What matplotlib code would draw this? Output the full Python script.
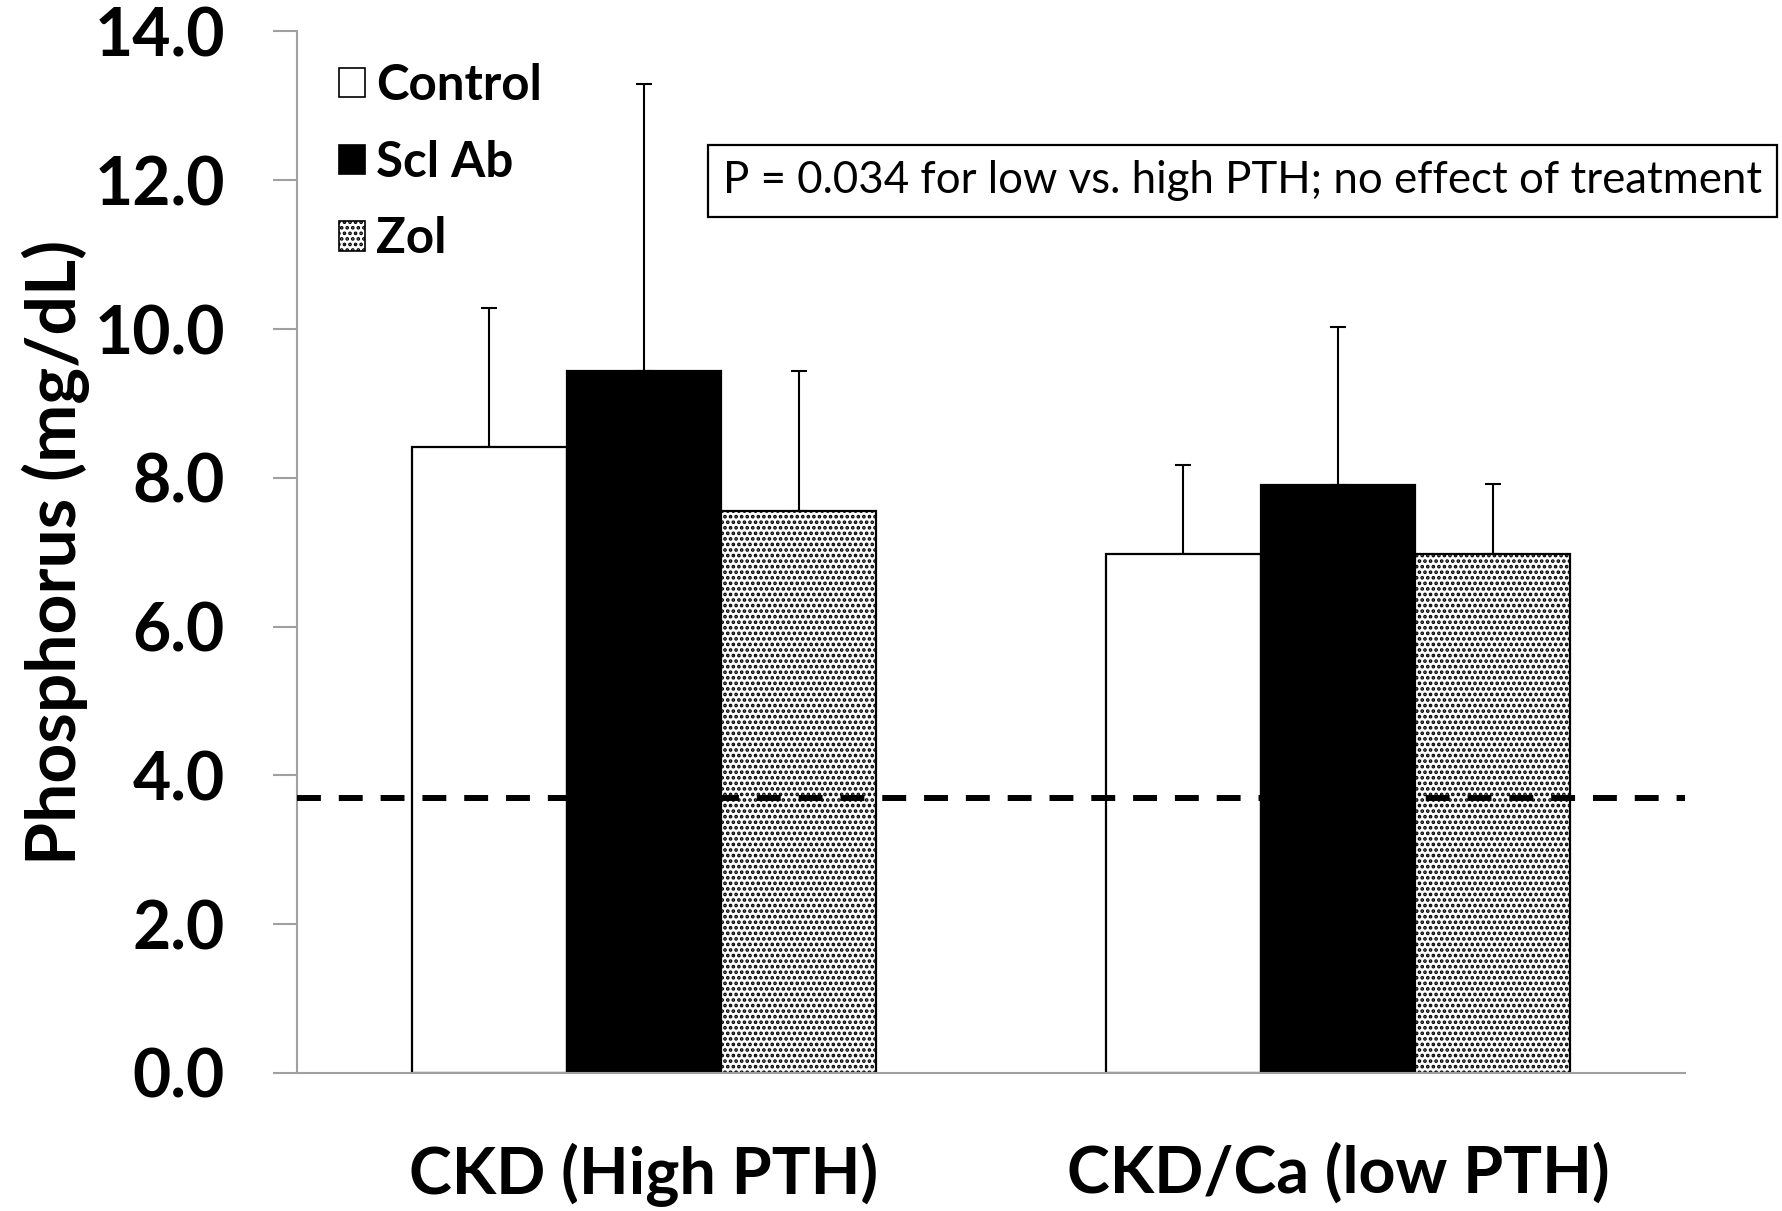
import numpy as np
import matplotlib.pyplot as plt
from matplotlib.patches import Patch

groups = ["CKD (High PTH)", "CKD/Ca (low PTH)"]
series = ["Control", "Scl Ab", "Zol"]
means = {
    "Control": [8.42, 6.98],
    "Scl Ab": [9.43, 7.91],
    "Zol": [7.55, 6.97],
}
err_up = {
    "Control": [1.86, 1.19],
    "Scl Ab": [3.87, 2.12],
    "Zol": [1.88, 0.95],
}
normal_line = 3.7
yticks = [0, 2, 4, 6, 8, 10, 12, 14]
note = "P = 0.034 for low vs. high PTH; no effect of treatment"

plt.rcParams['font.family'] = ['Lato', 'DejaVu Sans']
plt.rcParams['hatch.linewidth'] = 1.8
plt.rcParams['hatch.color'] = 'black'

fig = plt.figure(figsize=(17.83, 12.11), dpi=100)
ax = fig.add_axes([0.1666, 0.114, 0.7784, 0.860])

x = np.arange(len(groups))
w = 0.223
faces = {"Control": "white", "Scl Ab": "black", "Zol": "white"}
hatches = {"Control": None, "Scl Ab": None, "Zol": "..."}
for i, s in enumerate(series):
    pos = x + (i - 1) * w
    ax.bar(pos, means[s], w, color=faces[s], edgecolor="black", linewidth=1.6,
           hatch=hatches[s], zorder=2)
    ax.errorbar(pos, means[s], yerr=[np.zeros(len(groups)), err_up[s]],
                fmt="none", ecolor="black", elinewidth=1.5, capsize=6,
                capthick=1.5, zorder=1)

# dashed reference line
ax.axhline(normal_line, color="black", linestyle=(0, (4, 3)), linewidth=4.3, zorder=3)

ax.set_xlim(-0.5, 1.5)
ax.set_ylim(0, 14)
ax.set_yticks(yticks)
ax.set_yticklabels([f"{v:.1f}" for v in yticks], fontsize=47.5, fontweight="bold")
ax.set_xticks(x)
ax.set_xticklabels(groups, fontsize=46.5, fontweight="bold")
ax.tick_params(axis="x", length=0, pad=50)
ax.tick_params(axis="y", length=17, width=1.5, color="#a0a0a0", pad=35)
for sp in ["top", "right"]:
    ax.spines[sp].set_visible(False)
for sp in ["left", "bottom"]:
    ax.spines[sp].set_color("#a0a0a0")
    ax.spines[sp].set_linewidth(1.5)
ax.set_ylabel("Phosphorus (mg/dL)", fontsize=50, fontweight="bold", labelpad=3)

handles = [Patch(facecolor=faces[s], edgecolor="black", hatch=hatches[s], linewidth=1.2)
           for s in series]
ax.legend(handles, series, loc="upper left", bbox_to_anchor=(-0.002, 1.012),
          frameon=False, prop={"size": 35.5, "weight": "bold"},
          handlelength=0.53, handleheight=0.53, handletextpad=0.22, labelspacing=0.64)

fig.text(0.6968, 0.8506, note, fontsize=31.5, ha="center", va="center",
         bbox=dict(boxstyle="square,pad=0.35", facecolor="white", edgecolor="black", linewidth=1.6))

fig.savefig("out.png", dpi=100)
